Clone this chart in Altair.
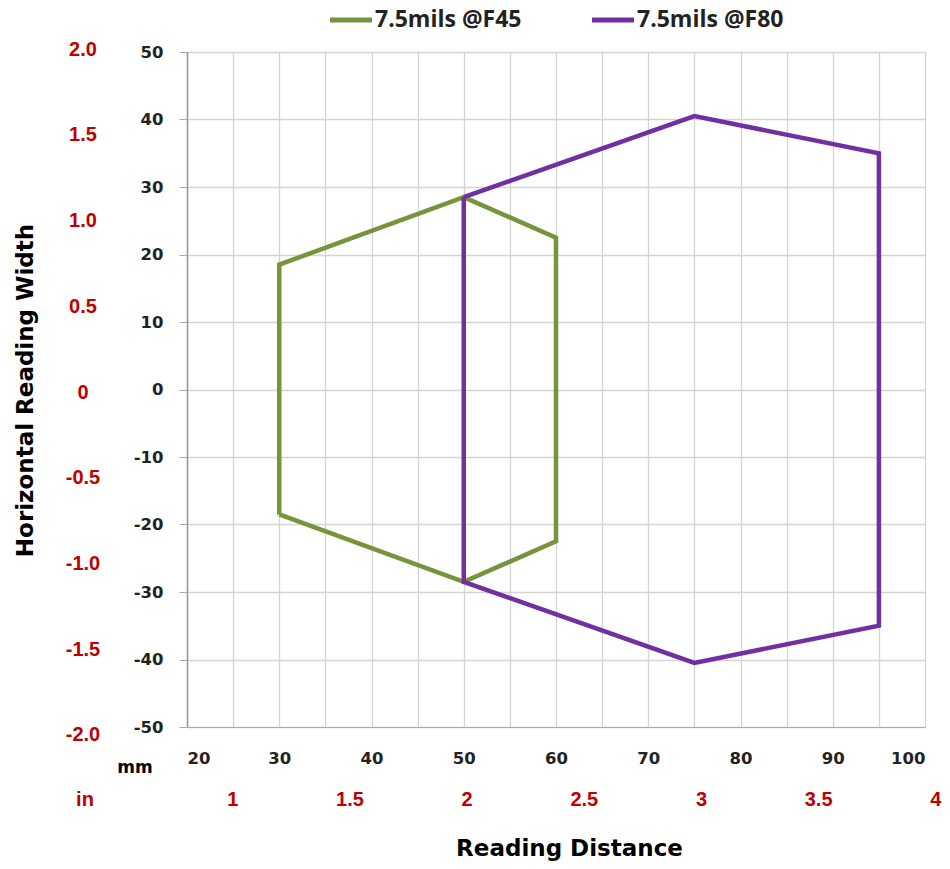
import altair as alt
import pandas as pd

# Series polygons (reading distance mm, horizontal width mm), in drawing order
f45_x = [30, 30, 50, 60, 60, 50, 30]
f45_y = [-18.5, 18.5, 28.5, 22.5, -22.5, -28.5, -18.5]
f80_x = [50, 75, 95, 95, 75, 50, 50]
f80_y = [28.5, 40.5, 35, -35, -40.5, -28.5, 28.5]
series_names = ["7.5mils @F45", "7.5mils @F80"]
series_colors = ["#77933C", "#7030A0"]

# inch labels
in_left_vals = [2.0, 1.5, 1.0, 0.5, 0.0, -0.5, -1.0, -1.5, -2.0]
in_left_text = ["2.0", "1.5", "1.0", "0.5", "0", "-0.5", "-1.0", "-1.5", "-2.0"]
in_bottom_vals = [1, 1.5, 2, 2.5, 3, 3.5, 4]
in_bottom_text = ["1", "1.5", "2", "2.5", "3", "3.5", "4"]

rows = []
for i, (x, y) in enumerate(zip(f45_x, f45_y)):
    rows.append({"series": series_names[0], "dist": x, "width": y, "ord": i})
for i, (x, y) in enumerate(zip(f80_x, f80_y)):
    rows.append({"series": series_names[1], "dist": x, "width": y, "ord": i})
df = pd.DataFrame(rows)

left_df = pd.DataFrame({"inch": in_left_vals, "label": in_left_text})
bot_df = pd.DataFrame({"inch": in_bottom_vals, "label": in_bottom_text})
leg_df = pd.DataFrame({"series": series_names})

RED = "#C00000"
TITLE_FONT = "DejaVu Sans"
TICK_FONT = "DejaVu Sans"
xscale = alt.Scale(domain=[20, 100], nice=False, zero=False)
yscale = alt.Scale(domain=[-50, 50], nice=False, zero=False)
cscale = alt.Scale(domain=series_names, range=series_colors)

lines = alt.Chart(df).mark_line(strokeWidth=4.5, strokeJoin="miter").encode(
    x=alt.X("dist:Q", scale=xscale,
            axis=alt.Axis(values=list(range(20, 101, 5)),
                          labelExpr="datum.value % 10 == 0 ? '' + datum.value : ''",
                          title="Reading Distance", titleFont=TITLE_FONT,
                          titleFontSize=23, titleFontWeight="bold", titleColor="#000",
                          titleX=382, titleY=110, titleAnchor="middle",
                          labelFont=TICK_FONT, labelFontSize=16.5, labelFontWeight="bold",
                          labelColor="#222", labelPadding=23, ticks=False,
                          grid=True, gridColor="#D4D4D4", gridWidth=1.3,
                          domainColor="#AAAAAA")),
    y=alt.Y("width:Q", scale=yscale,
            axis=alt.Axis(values=list(range(-50, 51, 5)),
                          labelExpr="datum.value % 10 == 0 ? '' + datum.value : ''",
                          title="Horizontal Reading Width", titleFont=TITLE_FONT,
                          titleFontSize=23, titleFontWeight="bold", titleColor="#000",
                          titleX=-150, titleY=338, titleAnchor="middle",
                          labelFont=TICK_FONT, labelFontSize=16.5, labelFontWeight="bold",
                          labelColor="#222", labelPadding=16, tickSize=8,
                          tickColor="#AAAAAA", grid=True, gridColor="#D4D4D4",
                          gridWidth=1.3, domainColor="#999999", domainWidth=1.5)),
    color=alt.Color("series:N", scale=cscale, legend=None),
    order="ord:Q",
)

# legend built from the series list (line swatch + label per series)
legend_layers = []
for name, x0 in zip(series_names, [143, 405]):
    base = alt.Chart(leg_df).transform_filter(alt.datum.series == name)
    legend_layers.append(base.mark_rule(strokeWidth=5).encode(
        x=alt.value(x0), x2=alt.value(x0 + 42), y=alt.value(-32),
        color=alt.Color("series:N", scale=cscale, legend=None)))
    legend_layers.append(base.mark_text(
        font="Open Sans", fontSize=23, fontWeight="bold", color="#222",
        align="left", baseline="middle").encode(
        x=alt.value(x0 + 45), y=alt.value(-32), text="series:N"))

left_labels = alt.Chart(left_df).transform_calculate(mm="datum.inch * 25.4").mark_text(
    font="Liberation Sans", fontSize=20, fontWeight="bold", color=RED, align="center",
    baseline="middle", clip=False, dy=3
).encode(x=alt.value(-104), y=alt.Y("mm:Q", scale=yscale), text="label:N")

bot_labels = alt.Chart(bot_df).transform_calculate(mm="datum.inch * 25.4").mark_text(
    font="Liberation Sans", fontSize=20, fontWeight="bold", color=RED, align="center",
    baseline="middle", clip=False, dx=-4
).encode(x=alt.X("mm:Q", scale=xscale), y=alt.value(748), text="label:N")

unit_df = pd.DataFrame({"u": ["mm", "in"]})
mm_label = alt.Chart(unit_df).transform_filter("datum.u == 'mm'").mark_text(
    font="DejaVu Sans", fontSize=17, fontWeight="bold", color="#000",
    align="center", baseline="middle"
).encode(x=alt.value(-52), y=alt.value(716), text="u:N")
in_label = alt.Chart(unit_df).transform_filter("datum.u == 'in'").mark_text(
    font="Liberation Sans", fontSize=20, fontWeight="bold", color=RED,
    align="center", baseline="middle"
).encode(x=alt.value(-102), y=alt.value(748), text="u:N")

chart = alt.layer(lines, *legend_layers, left_labels, bot_labels, mm_label,
                  in_label).properties(
    width=738, height=675,
    autosize=alt.AutoSizeParams(type="none"),
    padding={"left": 179, "top": 44, "right": 17, "bottom": 134},
).configure_view(stroke=None).configure(background="white")

chart.save("out.html", embed_options={"renderer": "svg", "actions": False})
